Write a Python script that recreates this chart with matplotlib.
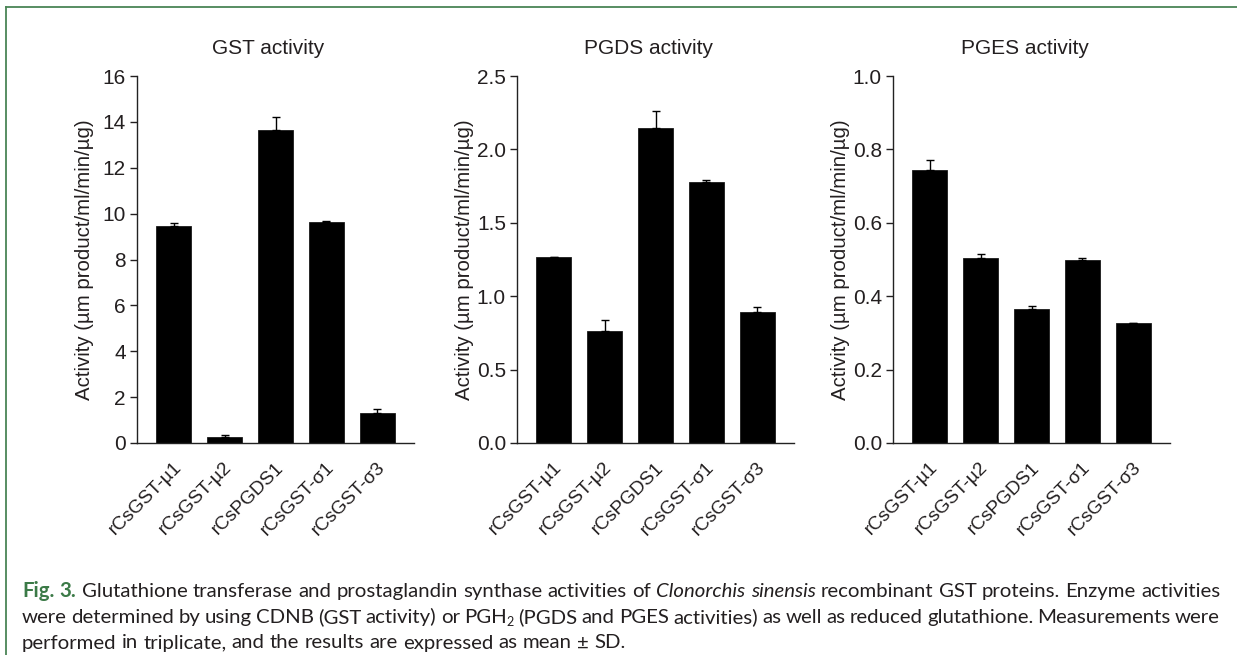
import matplotlib
matplotlib.use("Agg")
import matplotlib.pyplot as plt
from matplotlib.font_manager import FontProperties
from matplotlib.lines import Line2D
import matplotlib.transforms as mtransforms
import numpy as np

# ---------------- data ----------------
labels = ['rCsGST-µ1', 'rCsGST-µ2', 'rCsPGDS1', 'rCsGST-σ1', 'rCsGST-σ3']
titles = ['GST activity', 'PGDS activity', 'PGES activity']
gst_mean = [9.45, 0.25, 13.65, 9.62, 1.30]
gst_sd = [0.12, 0.10, 0.55, 0.05, 0.18]
pgds_mean = [1.265, 0.765, 2.145, 1.775, 0.895]
pgds_sd = [0.0, 0.075, 0.115, 0.015, 0.03]
pges_mean = [0.745, 0.505, 0.366, 0.498, 0.326]
pges_sd = [0.025, 0.010, 0.008, 0.007, 0.002]
gst_ticks = [0, 2, 4, 6, 8, 10, 12, 14, 16]
pgds_ticks = [0.0, 0.5, 1.0, 1.5, 2.0, 2.5]
pges_ticks = [0.0, 0.2, 0.4, 0.6, 0.8, 1.0]
ylabel = 'Activity (µm product/ml/min/µg)'

W, H = 1237, 655
DPI = 100
TXT = '#231f20'
GREEN = '#3b7a47'

plt.rcParams['font.family'] = ['Liberation Sans', 'DejaVu Sans']
fig = plt.figure(figsize=(W / DPI, H / DPI), dpi=DPI)

panels = [
    (137, gst_mean, gst_sd, gst_ticks, '{:.0f}'),
    (517, pgds_mean, pgds_sd, pgds_ticks, '{:.1f}'),
    (893, pges_mean, pges_sd, pges_ticks, '{:.1f}'),
]
ax_w, ax_top, ax_bot = 277, 76, 443

x = np.arange(len(labels))
offset = mtransforms.ScaledTranslation(-1 / DPI, -16 / DPI, fig.dpi_scale_trans)
for (left, means, sds, ticks, fmt), title in zip(panels, titles):
    ax = fig.add_axes([left / W, (H - ax_bot) / H, ax_w / W, (ax_bot - ax_top) / H])
    ax.bar(x, means, width=0.7, color='black', edgecolor='#1a1a1a', linewidth=0.6, zorder=2)
    ax.errorbar(x, means, yerr=[np.zeros(len(sds)), sds], fmt='none', ecolor='black',
                elinewidth=1.0, capsize=3.0, capthick=1.0, zorder=3)
    ax.set_xlim(-0.72, 4.72)
    ax.set_ylim(ticks[0], ticks[-1])
    ax.set_yticks(ticks)
    ax.set_yticklabels([fmt.format(t) for t in ticks])
    ax.set_xticks(x)
    ax.set_xticklabels([])
    for xi, lab in zip(x, labels):
        ax.text(xi, 0, lab, transform=ax.get_xaxis_transform() + offset,
                rotation=45, ha='right', va='top', rotation_mode='anchor',
                fontsize=13.7, color=TXT, clip_on=False)
    for spine in ('top', 'right'):
        ax.spines[spine].set_visible(False)
    for spine in ('left', 'bottom'):
        ax.spines[spine].set_linewidth(1.0)
        ax.spines[spine].set_color('#222222')
    ax.tick_params(axis='y', direction='out', length=5, width=1.0, labelsize=15,
                   colors=TXT, pad=3)
    ax.tick_params(axis='x', length=0)
    ax.set_ylabel(ylabel, fontsize=14.7, color=TXT)
    ax.yaxis.set_label_coords(-(137 - 94) / ax_w, 0.5)
    ax.set_title(title, fontsize=15, color=TXT, pad=16, x=0.475)
    ax.set_facecolor('none')

# ---------------- green frame ----------------
fig.add_artist(Line2D([6 / W, 6 / W], [0, 1 - 7 / H], transform=fig.transFigure,
                      color='#4a8556', linewidth=1.3))
fig.add_artist(Line2D([6 / W, 1], [1 - 7 / H, 1 - 7 / H], transform=fig.transFigure,
                      color='#4a8556', linewidth=1.3))

# ---------------- caption ----------------
renderer = fig.canvas.get_renderer()
CAP_FAMILY = ['Lato', 'Open Sans', 'DejaVu Sans']


def fp(size, style):
    if style == 'bold':
        return FontProperties(family=CAP_FAMILY, size=size, weight='bold')
    if style == 'italic':
        return FontProperties(family=CAP_FAMILY, size=size, style='italic')
    return FontProperties(family=CAP_FAMILY, size=size)


def width(s, prop):
    w, h, d = renderer.get_text_width_height_descent(s, prop, ismath=False)
    return w


# each line: list of words; each word: list of (text, style) pieces
line1 = ([[('Fig.', 'bold')], [('3.', 'bold')]] +
         [[(w, 'normal')] for w in 'Glutathione transferase and prostaglandin synthase activities of'.split()] +
         [[('Clonorchis', 'italic')], [('sinensis', 'italic')]] +
         [[(w, 'normal')] for w in 'recombinant GST proteins. Enzyme activities'.split()])
line2 = ([[(w, 'normal')] for w in 'were determined by using CDNB (GST activity) or'.split()] +
         [[('PGH', 'normal'), ('2', 'sub')]] +
         [[(w, 'normal')] for w in '(PGDS and PGES activities) as well as reduced glutathione. Measurements were'.split()])
line3 = [[(w, 'normal')] for w in 'performed in triplicate, and the results are expressed as mean ± SD.'.split()]


def piece_width(txt, style, size):
    if style == 'sub':
        return width(txt, fp(size * 0.62, 'normal'))
    return width(txt, fp(size, style))


def natural_width(line, size):
    sp = width('a a', fp(size, 'normal')) - width('aa', fp(size, 'normal'))
    tot = sum(piece_width(t, s, size) for word in line for (t, s) in word)
    return tot + sp * (len(line) - 1), sp


x0, x1 = 22, 1220
target = x1 - x0
size = 12.0
nw, _ = natural_width(line1, size)
size = size * target / nw * 0.995


def draw_line(line, ybase, justify):
    nwid, sp = natural_width(line, size)
    if justify:
        sp = sp + (target - nwid) / (len(line) - 1)
    xp = x0
    for word in line:
        for (t, s) in word:
            col = GREEN if s == 'bold' else TXT
            if s == 'sub':
                fig.text(xp / W, 1 - (ybase + 3) / H, t, fontproperties=fp(size * 0.62, 'normal'),
                         color=col, ha='left', va='baseline')
            else:
                fig.text(xp / W, 1 - ybase / H, t, fontproperties=fp(size, s),
                         color=col, ha='left', va='baseline')
            xp += piece_width(t, s, size)
        xp += sp


draw_line(line1, 597, True)
draw_line(line2, 623, True)
draw_line(line3, 648.5, False)

fig.savefig('out.png', dpi=DPI)
